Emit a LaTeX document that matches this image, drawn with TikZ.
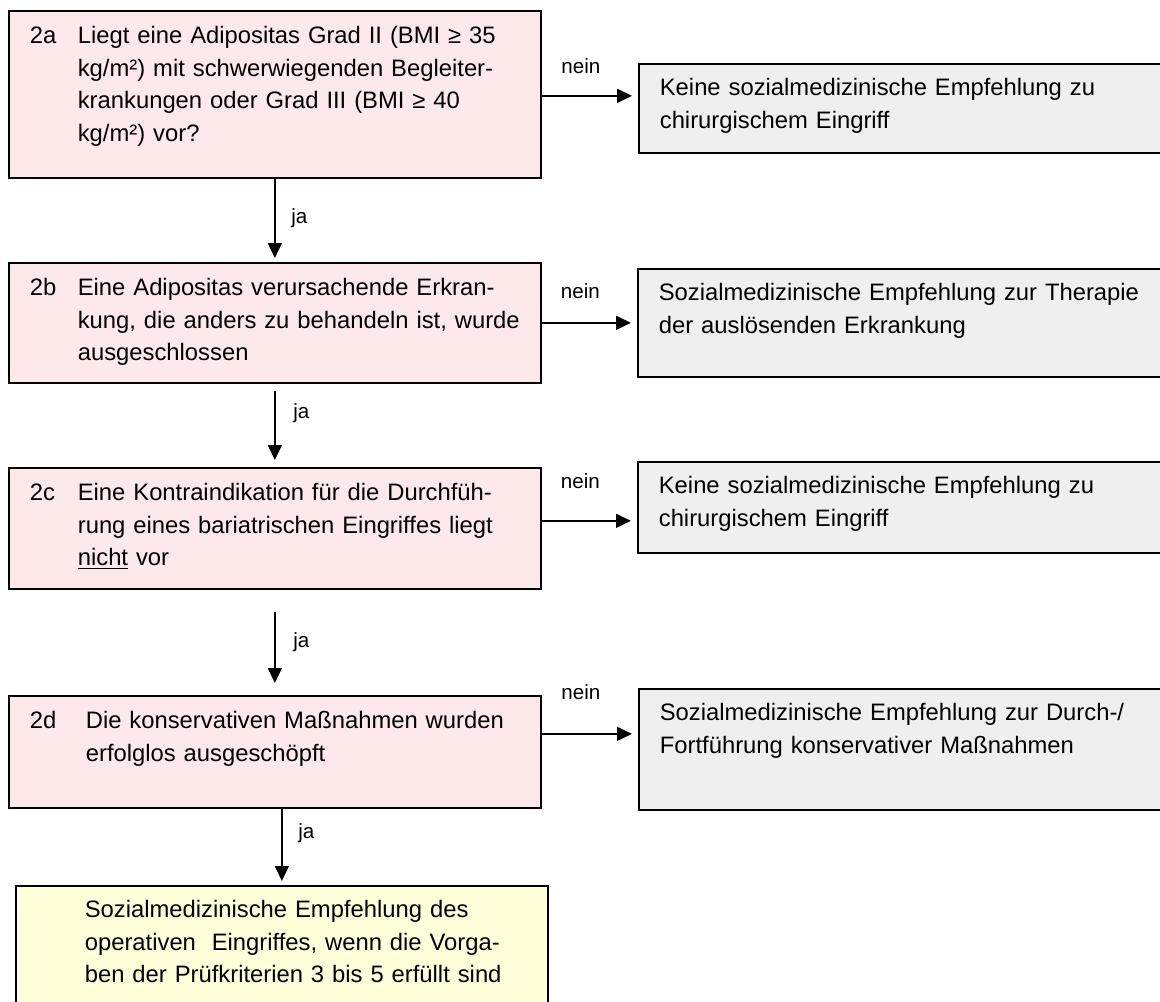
\documentclass[tikz,border=0pt]{standalone}
\usepackage{fontspec}
\setmainfont{Liberation Sans}
\usetikzlibrary{arrows.meta,positioning}
\definecolor{checkfill}{HTML}{FDE9E9}
\definecolor{verdictfill}{HTML}{EFEFEF}
\definecolor{finalfill}{HTML}{FFFFD9}
\newcommand{\stepnum}[2][24pt]{\makebox[#1][l]{#2}}
\newcommand{\stepgap}[1][24pt]{\hspace*{#1}}

\begin{document}
\begin{tikzpicture}[
    x=0.5pt, y=-0.5pt,
    box/.style={draw, line width=0.85pt, anchor=north west, align=left, inner xsep=10.5pt, inner ysep=0pt,
        font=\fontsize{11.9pt}{16.25pt}\selectfont},
    check/.style={box, fill=checkfill, text width=245pt, text height=16.5pt},
    verdict/.style={box, fill=verdictfill, text width=247.5pt, text height=16pt},
    final/.style={box, fill=finalfill, text width=245pt, text height=16pt},
    flow/.style={-{Triangle[length=7.5pt, width=7pt]}, line width=0.75pt},
    answer/.style={font=\fontsize{10.3pt}{12pt}\selectfont}
]
    \useasboundingbox (0,0) rectangle (1160,1001);
    \clip (0,0) rectangle (1160,1001);

    \node[check, text depth=67pt] (b2a) at (8,10) {
        \stepnum{2a}Liegt eine Adipositas Grad II (BMI ≥ 35\\
        \stepgap kg/m²) mit schwerwiegenden Begleiter-\\
        \stepgap krankungen oder Grad III (BMI ≥ 40\\
        \stepgap kg/m²) vor?
    };

    \node[verdict, text depth=28.5pt] (g2a) at (638,63) {
        Keine sozialmedizinische Empfehlung zu\\
        chirurgischem Eingriff
    };

    \node[check, text depth=43.5pt] (b2b) at (8,262) {
        \stepnum{2b}Eine Adipositas verursachende Erkran-\\
        \stepgap kung, die anders zu behandeln ist, wurde\\
        \stepgap ausgeschlossen
    };

    \node[verdict, text depth=38pt] (g2b) at (637,268) {
        Sozialmedizinische Empfehlung zur Therapie\\
        der auslösenden Erkrankung
    };

    \node[check, text depth=44pt] (b2c) at (8,467) {
        \stepnum{2c}Eine Kontraindikation für die Durchfüh-\\
        \stepgap rung eines bariatrischen Eingriffes liegt\\
        \stepgap \underline{nicht} vor
    };

    \node[verdict, text depth=29.5pt] (g2c) at (637,461) {
        Keine sozialmedizinische Empfehlung zu\\
        chirurgischem Eingriff
    };

    \node[check, text depth=39.5pt] (b2d) at (8,695) {
        \stepnum[28pt]{2d}Die konservativen Maßnahmen wurden\\
        \stepgap[28pt]erfolglos ausgeschöpft
    };

    \node[verdict, text depth=44.5pt] (g2d) at (638,688) {
        \makebox[243pt][s]{Sozialmedizinische Empfehlung zur Durch-/}\\
        Fortführung konservativer Maßnahmen
    };

    \node[final, text depth=46.5pt] (res) at (15,885) {
        \stepgap Sozialmedizinische Empfehlung des\\
        \stepgap operativen\ \ Eingriffes, wenn die Vorga-\\
        \stepgap ben der Prüfkriterien 3 bis 5 erfüllt sind
    };

    \coordinate (n2a) at ([yshift=-0.75pt]b2a.east);
    \coordinate (n2b) at (b2b.east);
    \coordinate (n2c) at ([yshift=3.75pt]b2c.east);
    \coordinate (n2d) at ([yshift=9pt]b2d.east);

    \draw[flow, shorten >=3pt] (n2a) -- (n2a -| g2a.west) node[answer, midway, above, xshift=-4.5pt, yshift=7.5pt] {nein};
    \draw[flow, shorten >=3pt] (n2b) -- (n2b -| g2b.west) node[answer, midway, above, xshift=-4.5pt, yshift=8.5pt] {nein};
    \draw[flow, shorten >=3pt] (n2c) -- (n2c -| g2c.west) node[answer, midway, above, xshift=-4.5pt, yshift=12.5pt] {nein};
    \draw[flow, shorten >=3pt] (n2d) -- (n2d -| g2d.west) node[answer, midway, above, xshift=-4.5pt, yshift=13.5pt] {nein};

    \draw[flow, shorten >=2pt] (b2a) -- (b2b) node[answer, right, pos=0.47, xshift=4.5pt] {ja};
    \draw[flow, shorten <=3.5pt, shorten >=3.5pt] (b2b) -- (b2c) node[answer, right, pos=0.35, xshift=5.5pt] {ja};
    \draw[flow, shorten <=11pt, shorten >=6pt] (b2c) -- (b2d) node[answer, right, pos=0.5, xshift=5.5pt] {ja};
    \draw[flow, shorten >=2pt] (res.north |- b2d.south) -- (res.north) node[answer, right, pos=0.32, xshift=4.5pt] {ja};
\end{tikzpicture}
\end{document}
